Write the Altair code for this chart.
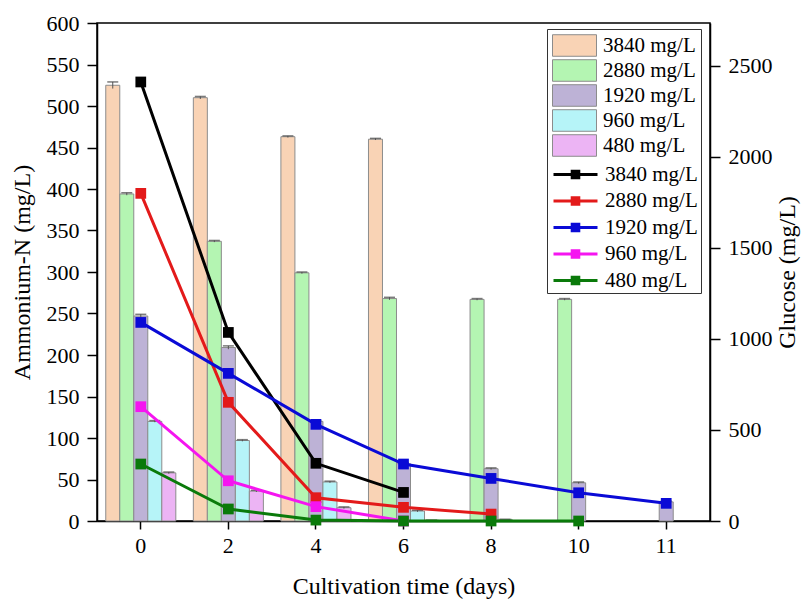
import altair as alt
import pandas as pd

days = ["0", "2", "4", "6", "8", "10", "11"]
series = ["3840 mg/L", "2880 mg/L", "1920 mg/L", "960 mg/L", "480 mg/L"]

# Ammonium-N (mg/L) -> bars
nh4_3840 = [525, 510, 463, 460, 0, 0, 0]
nh4_2880 = [394, 337, 299, 268, 267, 267, 0]
nh4_1920 = [247, 209, 120, 69, 63, 46, 23]
nh4_960 = [120, 97, 47, 12, 2, 0, 0]
nh4_480 = [58, 36, 16, 1, 0, 0, 0]
nh4 = [nh4_3840, nh4_2880, nh4_1920, nh4_960, nh4_480]

err_3840 = [4, 1.5, 1, 1, 0, 0, 0]
err_2880 = [1.5, 1, 1, 1.5, 1, 1, 0]
err_1920 = [2, 2, 1, 1, 1, 1, 1]
err_960 = [1, 1, 1, 1, 0, 0, 0]
err_480 = [1, 1, 1, 0, 0, 0, 0]
errs = [err_3840, err_2880, err_1920, err_960, err_480]

# Glucose (mg/L) -> lines
glu_3840 = [2412, 1036, 317, 157]
glu_2880 = [1800, 652, 128, 75, 38]
glu_1920 = [1091, 811, 531, 313, 234, 155, 97]
glu_960 = [628, 221, 79, 0]
glu_480 = [313, 66, 5, 0, 0, 0]
glu = [glu_3840, glu_2880, glu_1920, glu_960, glu_480]

bar_fill = ["#F9D3B5", "#B4F5B2", "#BDB2D6", "#B6F4F8", "#ECB4F4"]
line_colors = ["#000000", "#E31A1A", "#0A0AD6", "#F515F0", "#0A7A0A"]

FONT = "Liberation Serif"

bar_rows = []
for si, s in enumerate(series):
    for di, d in enumerate(days):
        v = nh4[si][di]
        if v > 0:
            e = errs[si][di]
            bar_rows.append({"day": d, "bar_series": s, "order": si, "value": v,
                             "lo": v - e, "hi": v + e})
bar_df = pd.DataFrame(bar_rows)

line_rows = []
for si, s in enumerate(series):
    for di, v in enumerate(glu[si]):
        line_rows.append({"day": days[di], "dayidx": di, "line_series": s,
                          "order": si, "glucose": v})
line_df = pd.DataFrame(line_rows)

x_enc = alt.X("day:N", sort=days,
              scale=alt.Scale(domain=days, paddingInner=0.2, paddingOuter=0.1),
              axis=alt.Axis(title="Cultivation time (days)", labelAngle=0,
                            labelFontSize=22, titleFontSize=24, tickSize=8,
                            labelPadding=6, titlePadding=18))
xoff = alt.XOffset("bar_series:N", sort=alt.EncodingSortField("order", op="min"),
                   scale=alt.Scale(paddingInner=0, paddingOuter=0))
y_left = alt.Y("value:Q", scale=alt.Scale(domain=[0, 600], nice=False),
               axis=alt.Axis(orient="left", values=list(range(0, 601, 50)),
                             title="Ammonium-N (mg/L)", labelFontSize=22,
                             titleFontSize=24, tickSize=10, labelPadding=8,
                             titlePadding=12, grid=False))

bars = alt.Chart(bar_df).mark_bar(stroke="#8c8c8c", strokeWidth=1).encode(
    x=x_enc, xOffset=xoff, y=y_left,
    fill=alt.Fill("bar_series:N", sort=alt.EncodingSortField("order", op="min"),
                  scale=alt.Scale(range=bar_fill),
                  legend=alt.Legend(orient="none", legendX=450, legendY=6,
                                    title=[" ", " ", " ", " ", " "],
                                    titleOrient="bottom", titleFontSize=20,
                                    titleLineHeight=27.4, titlePadding=0,
                                    strokeColor="#333333", fillColor="white",
                                    padding=5, symbolOffset=11,
                                    symbolType="M-2,-0.98H2V0.98H-2Z",
                                    symbolSize=484, symbolStrokeColor="#8c8c8c",
                                    symbolStrokeWidth=1, symbolOpacity=1,
                                    labelFont=FONT, labelFontSize=21,
                                    labelOffset=17, rowPadding=-2,
                                    labelColor="black")),
)

err_rule = alt.Chart(bar_df).mark_rule(color="#555555", strokeWidth=1).encode(
    x=x_enc, xOffset=xoff, y=alt.Y("lo:Q"), y2="hi:Q")
err_cap = alt.Chart(bar_df).mark_tick(color="#444444", thickness=1.5, size=11).encode(
    x=x_enc, xOffset=xoff, y=alt.Y("hi:Q"))

left_layer = alt.layer(bars, err_rule, err_cap)

lines = alt.Chart(line_df).mark_line(
    strokeWidth=3,
    point=alt.OverlayMarkDef(shape="square", size=115, filled=True, opacity=1),
).encode(
    x=x_enc,
    y=alt.Y("glucose:Q", scale=alt.Scale(domain=[0, 2736], nice=False),
            axis=alt.Axis(orient="right", values=[0, 500, 1000, 1500, 2000, 2500],
                          format="d",
                          title="Glucose (mg/L)", titleAngle=270,
                          labelFontSize=22, titleFontSize=24, tickSize=10,
                          labelPadding=8, titlePadding=27, grid=False)),
    color=alt.Color("line_series:N", sort=alt.EncodingSortField("order", op="min"),
                    scale=alt.Scale(range=line_colors), title=None,
                    legend=alt.Legend(orient="none", legendX=450, legendY=134,
                                      padding=5, symbolOffset=11,
                                      symbolType="M-2,0H2M-0.3,-0.3H0.3V0.3H-0.3ZM-0.1,-0.1H0.1V0.1H-0.1Z",
                                      symbolSize=484, symbolStrokeWidth=3,
                                      symbolOpacity=1,
                                      labelFont=FONT, labelFontSize=21,
                                      labelOffset=17, rowPadding=3.5,
                                      labelColor="black")),
    order=alt.Order("dayidx:Q"),
)

chart = alt.layer(left_layer, lines).resolve_scale(y="independent").properties(
    width=613, height=498,
    autosize=alt.AutoSizeParams(type="none"),
    padding={"left": 97, "top": 23, "right": 95, "bottom": 81},
).configure(font=FONT, background="white").configure_view(
    stroke="black", strokeWidth=1.5
).configure_axis(
    labelFont=FONT, titleFont=FONT, labelColor="black", titleColor="black",
    domainColor="black", tickColor="black", domainWidth=1.5, tickWidth=1.5,
    titleFontWeight="normal"
)

chart.save("out.html", embed_options={"renderer": "svg", "actions": False})
